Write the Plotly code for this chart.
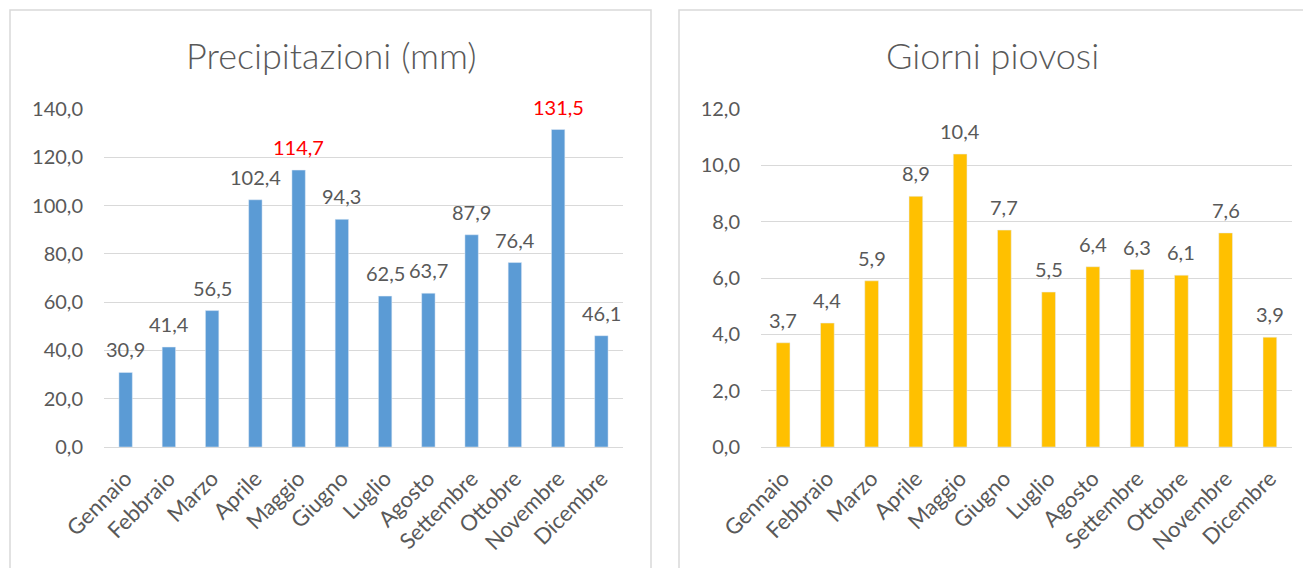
import plotly.graph_objects as go

mesi = ["Gennaio", "Febbraio", "Marzo", "Aprile", "Maggio", "Giugno",
        "Luglio", "Agosto", "Settembre", "Ottobre", "Novembre", "Dicembre"]
precipitazioni = [30.9, 41.4, 56.5, 102.4, 114.7, 94.3, 62.5, 63.7, 87.9, 76.4, 131.5, 46.1]
giorni_piovosi = [3.7, 4.4, 5.9, 8.9, 10.4, 7.7, 5.5, 6.4, 6.3, 6.1, 7.6, 3.9]
evidenziati = ["Maggio", "Novembre"]
titolo_sx = "Precipitazioni (mm)"
titolo_dx = "Giorni piovosi"
tick_sx = [0, 20, 40, 60, 80, 100, 120, 140]
tick_dx = [0, 2, 4, 6, 8, 10, 12]

W, H = 1311, 568
OFF = 8  # page margin of the browser
FONT = "Lato"
GRAY = "#595959"
GRID = "#D9D9D9"

def fx(px):
    return (px - OFF) / W

def fy(py):
    return 1 - (py - OFF) / H

fig = go.Figure()
fig.add_trace(go.Bar(x=mesi, y=precipitazioni, marker_color="#5B9BD5",
                     xaxis="x", yaxis="y", hoverinfo="x+y"))
fig.add_trace(go.Bar(x=mesi, y=giorni_piovosi, marker_color="#FFC000",
                     xaxis="x2", yaxis="y2", hoverinfo="x+y"))

annotations = []
for m, v in zip(mesi, precipitazioni):
    annotations.append(dict(x=m, y=v, xref="x", yref="y", text=f"{v:.1f}".replace(".", ","),
                            showarrow=False, yanchor="bottom", yshift=9,
                            font=dict(family=FONT, size=20,
                                      color="#FF0000" if m in evidenziati else GRAY)))
for m, v in zip(mesi, giorni_piovosi):
    annotations.append(dict(x=m, y=v, xref="x2", yref="y2", text=f"{v:.1f}".replace(".", ","),
                            showarrow=False, yanchor="bottom", yshift=9,
                            font=dict(family=FONT, size=20, color=GRAY)))
annotations.append(dict(x=fx(331), y=fy(55), xref="paper", yref="paper", text=titolo_sx,
                        showarrow=False, xanchor="center", yanchor="middle",
                        font=dict(family=FONT, size=36, weight=300, color=GRAY)))
annotations.append(dict(x=fx(992), y=fy(55), xref="paper", yref="paper", text=titolo_dx,
                        showarrow=False, xanchor="center", yanchor="middle",
                        font=dict(family=FONT, size=36, weight=300, color=GRAY)))

shapes = [
    dict(type="rect", xref="paper", yref="paper", x0=fx(10), x1=fx(651), y0=fy(600), y1=fy(10),
         line=dict(color=GRID, width=1.5), layer="below"),
    dict(type="rect", xref="paper", yref="paper", x0=fx(679), x1=fx(1340), y0=fy(600), y1=fy(10),
         line=dict(color=GRID, width=1.5), layer="below"),
]

yaxis_common = dict(showgrid=True, gridcolor=GRID, gridwidth=1, zeroline=False,
                    showline=False, ticks="", tickformat=".1f", automargin=False,
                    tickfont=dict(family=FONT, size=20, color=GRAY), ticklabelstandoff=20)
xaxis_common = dict(showgrid=False, zeroline=False, showline=True, linecolor=GRID, linewidth=1,
                    ticks="", tickangle=-45, automargin=False, ticklabelstandoff=9,
                    tickfont=dict(family=FONT, size=22, color=GRAY),
                    type="category")

fig.update_layout(
    width=W, height=H, margin=dict(l=0, r=0, t=0, b=0, autoexpand=False),
    paper_bgcolor="white", plot_bgcolor="white", showlegend=False,
    separators=", ", bargap=0.69,
    xaxis=dict(domain=[fx(104), fx(623)], anchor="y", **xaxis_common),
    yaxis=dict(domain=[fy(447), fy(109)], range=[0, 140], tickvals=tick_sx, anchor="x",
               **yaxis_common),
    xaxis2=dict(domain=[fx(761), fx(1292)], anchor="y2", **xaxis_common),
    yaxis2=dict(domain=[fy(447), fy(109)], range=[0, 12], tickvals=tick_dx, anchor="x2",
                **yaxis_common),
    annotations=annotations, shapes=shapes,
)

fig.write_html("out.html")
